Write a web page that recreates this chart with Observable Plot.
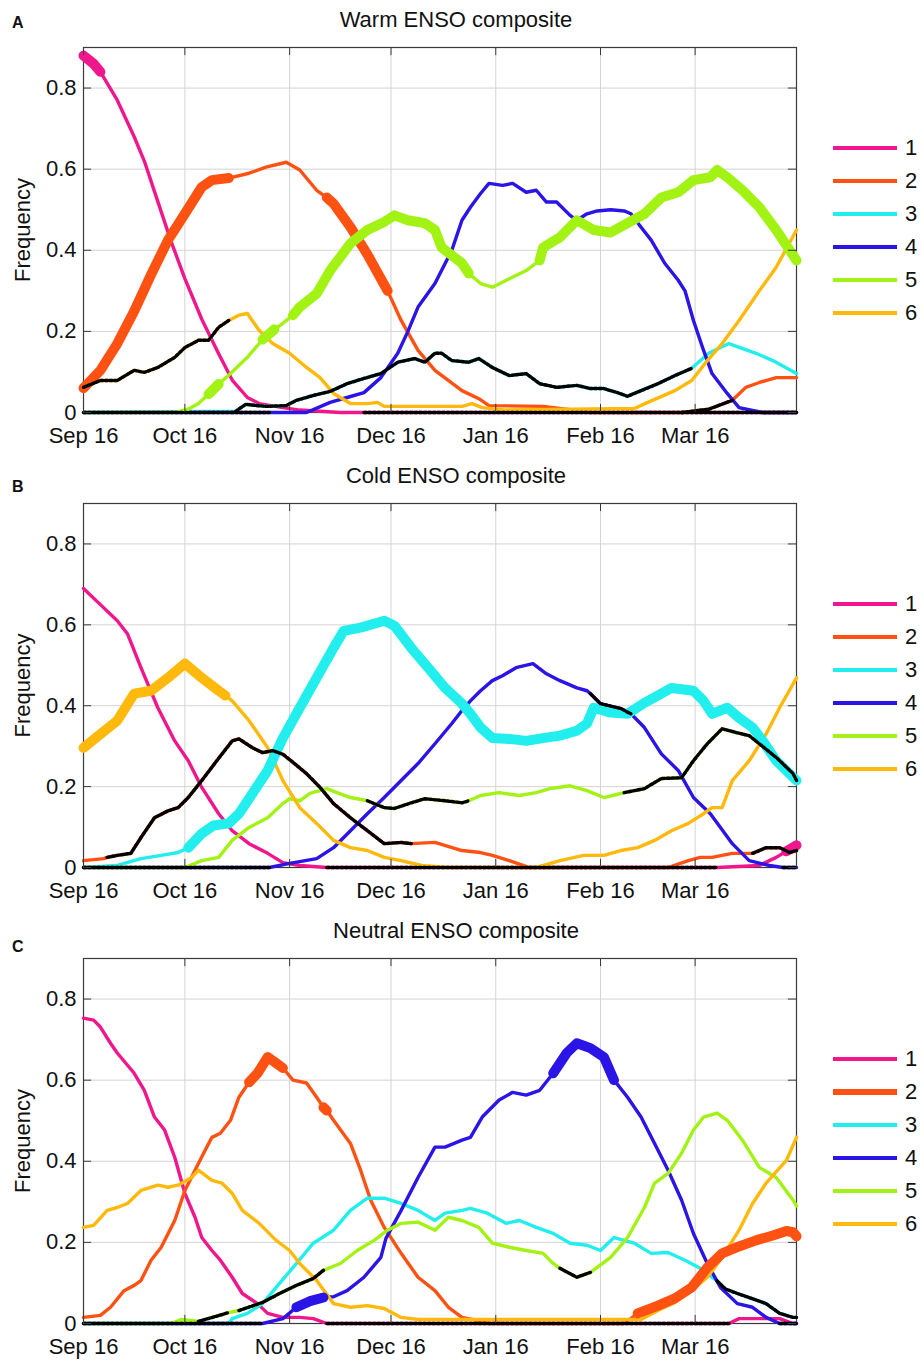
<!DOCTYPE html>
<html><head><meta charset="utf-8">
<script src="https://cdn.jsdelivr.net/npm/d3@7"></script>
<script src="https://cdn.jsdelivr.net/npm/@observablehq/plot@0.6"></script>
<style>
body{margin:0;background:#fff;font-family:"Liberation Sans",Arial,sans-serif;}
#root{position:relative;width:922px;height:1361px;overflow:hidden;background:#fff;}
.panel{position:absolute;left:0;}
.title{position:absolute;left:0;width:912px;text-align:center;font-size:22px;line-height:22px;color:#111;white-space:nowrap;}
.letter{position:absolute;left:12px;font-size:16px;font-weight:bold;line-height:16px;color:#111;}
.entry{position:absolute;left:833px;display:flex;align-items:center;height:30px;}
.swatch{width:64px;}
.lab{margin-left:8px;font-size:22px;line-height:22px;color:#111;}
</style></head><body><div id="root"></div><script>
// day offsets from Sep 16; value = frequency; sig: 1 significant high, -1 significant low, 0 none
const tickDays = [0, 30, 61, 91, 122, 153, 181];
const tickLabels = ["Sep 16", "Oct 16", "Nov 16", "Dec 16", "Jan 16", "Feb 16", "Mar 16"];
const yTicks = [0, 0.2, 0.4, 0.6, 0.8];
const clusters = [1, 2, 3, 4, 5, 6];
const colors = ["#f0168c", "#ff5212", "#22eeee", "#2a14e6", "#a2f214", "#ffb90c"];

const warm1 = [[0,.88,1],[3,.86,1],[5,.84,0],[10,.77,0],[15,.68,0],[18,.62,0],[22,.52,0],[26,.42,0],[30,.33,0],[35,.23,0],[40,.145,0],[44,.08,0],[48.5,.037,0],[52,.022,0],[59,.012,0],[64,.006,0],[70,.003,0],[76,0,0],[83,0,-1],[211,0,-1]];
const warm2 = [[0,.06,1],[5,.104,1],[10,.17,1],[15,.25,1],[20,.34,1],[25,.425,1],[30,.49,1],[35,.556,1],[38,.573,1],[43,.578,0],[49,.59,0],[54,.605,0],[60,.617,0],[64,.598,0],[69,.548,0],[72,.53,1],[74,.515,1],[79,.457,1],[84,.39,1],[90,.30,0],[94,.227,0],[99,.153,0],[104,.104,0],[112,.054,0],[117,.034,0],[120,.017,0],[136,.015,0],[144,.007,0],[150,0,0],[177,0,-1],[185,.008,-1],[192,.03,0],[196,.062,0],[200,.074,0],[205,.086,0],[211,.086,0]];
const warm3 = [[0,0,0],[45,.003,-1],[48,.02,-1],[54,.015,-1],[60,.017,-1],[63,.03,-1],[68,.042,-1],[73,.052,-1],[78,.071,-1],[83,.084,-1],[88,.096,-1],[93,.124,-1],[98,.133,-1],[101,.124,-1],[104,.146,-1],[106,.146,-1],[109,.128,-1],[114,.124,-1],[117,.133,-1],[121,.111,-1],[126,.091,-1],[131,.096,-1],[135,.071,-1],[140,.062,-1],[146,.067,-1],[150,.059,-1],[154,.059,-1],[158,.049,-1],[161,.04,-1],[165,.054,-1],[170,.071,-1],[175,.091,-1],[180,.109,0],[185,.146,0],[191,.17,0],[199,.146,0],[204,.128,0],[211,.096,0]];
const warm4 = [[0,0,-1],[55,0,0],[66,0,0],[73,.025,0],[78,.037,0],[83,.049,0],[88,.086,0],[93,.146,0],[96,.2,0],[99,.26,0],[104,.318,0],[109,.40,0],[112,.474,0],[114.5,.506,0],[117.5,.54,0],[120,.565,0],[124,.56,0],[127,.565,0],[131,.543,0],[134,.548,0],[137,.519,0],[140,.519,0],[144,.486,0],[146,.474,0],[149,.49,0],[152,.497,0],[156,.50,0],[160,.497,0],[162,.49,0],[165,.457,0],[168,.425,0],[172,.368,0],[176,.326,0],[178,.30,0],[180.5,.227,0],[183.5,.153,0],[186,.096,0],[190.5,.047,0],[194,.012,0],[198,.005,0],[201,0,-1],[211,0,-1]];
const warm5 = [[0,0,0],[27,0,0],[31,.008,0],[34,.022,0],[37,.045,1],[40,.07,0],[43.5,.096,0],[48.5,.136,0],[53,.18,1],[56.5,.205,0],[59,.22,0],[62,.24,1],[64,.26,1],[69,.293,1],[73,.35,1],[79,.417,1],[84,.45,1],[89,.47,1],[92,.486,1],[96,.474,1],[101,.467,1],[104,.45,1],[106,.407,1],[112,.368,1],[114,.343,0],[117.5,.318,0],[121,.309,0],[126,.33,0],[131,.35,0],[135,.375,1],[136,.407,1],[141,.432,1],[146,.474,1],[151,.45,1],[156,.444,1],[161,.467,1],[166,.49,1],[171,.53,1],[176,.543,1],[180.5,.573,1],[185.5,.58,1],[187.5,.598,1],[190.5,.58,1],[195,.548,1],[200,.506,1],[205,.45,1],[211,.375,1]];
const warm6 = [[0,.062,-1],[5,.079,-1],[10,.079,-1],[15,.104,-1],[18,.099,-1],[22,.111,-1],[27,.136,-1],[30,.16,-1],[34,.178,-1],[37,.178,-1],[40,.21,-1],[43,.227,0],[46,.24,0],[48.5,.244,0],[52,.202,0],[56,.17,0],[61,.146,0],[66,.111,0],[70,.086,0],[74,.047,0],[79,.022,0],[84,.022,0],[87,.025,0],[89,.015,0],[112,.015,0],[115,.022,0],[118,.012,0],[125,.006,0],[163,.01,0],[167,.025,0],[175,.054,0],[180,.079,0],[184.6,.128,0],[189,.17,0],[194,.227,0],[200,.30,0],[205,.358,0],[211,.45,0]];

const cold1 = [[0,.69,0],[5,.65,0],[10,.61,0],[13,.578,0],[17,.494,0],[22,.395,0],[27,.313,0],[31,.264,0],[35,.198,0],[40,.133,0],[44,.091,0],[49,.059,0],[54.5,.035,0],[59,.012,0],[64,.005,0],[72,0,-1],[187.5,0,0],[200,.005,0],[205,.025,0],[208,.04,1],[211,.055,1]];
const cold2 = [[0,.017,0],[6,.022,0],[7,.025,-1],[10,.03,-1],[14,.035,-1],[17,.074,-1],[21,.123,-1],[25,.14,-1],[28,.148,-1],[31,.173,-1],[35,.215,-1],[40,.27,-1],[44,.313,-1],[46,.318,-1],[50,.296,-1],[53,.284,-1],[56,.289,-1],[59,.28,-1],[62,.26,-1],[66,.232,-1],[70,.198,-1],[74,.158,-1],[79,.123,-1],[84,.091,-1],[89,.059,-1],[94,.062,-1],[97,.059,0],[104,.062,0],[112,.042,0],[117.5,.037,0],[121,.03,0],[126,.017,0],[132,0,0],[173,0,0],[179,.017,0],[182.5,.025,0],[186,.025,0],[192,.035,0],[198,.035,-1],[202,.049,-1],[206,.049,-1],[209,.037,-1],[211,.042,-1]];
const cold3 = [[0,0,0],[10,.005,0],[17,.022,0],[23,.03,0],[28,.037,0],[31,.049,1],[35,.084,1],[38.5,.104,1],[43,.109,1],[46,.133,1],[50,.183,1],[54.5,.24,1],[59,.32,1],[64,.395,1],[69,.469,1],[74,.543,1],[77,.585,1],[82,.593,1],[87,.605,1],[89,.61,1],[92,.598,1],[97,.543,1],[102,.494,1],[107,.444,1],[112,.405,1],[114.5,.38,1],[117.5,.346,1],[121,.32,1],[126,.318,1],[131,.313,1],[136,.32,1],[141,.326,1],[146,.338,1],[149,.356,1],[151,.395,1],[156,.383,1],[161,.38,1],[166,.407,1],[171,.43,1],[174,.444,1],[180.5,.437,1],[183.5,.412,1],[186,.38,1],[190.5,.395,1],[194,.37,1],[198,.346,1],[201,.313,1],[205,.264,1],[211,.215,1]];
const cold4 = [[0,0,-1],[55,0,0],[61,.01,0],[69,.022,0],[74,.049,0],[79,.091,0],[84,.133,0],[89,.173,0],[94,.215,0],[99,.257,0],[104,.306,0],[109,.356,0],[112,.388,0],[114.5,.412,0],[117.5,.437,0],[121,.462,0],[124,.474,0],[128,.494,0],[133,.504,0],[137,.479,0],[141,.462,0],[146,.444,0],[149,.437,0],[150,.43,-1],[153,.405,-1],[159,.393,-1],[162,.38,0],[166,.346,0],[171,.281,0],[176,.24,0],[180.5,.173,0],[185.5,.133,0],[188.5,.099,0],[192,.059,0],[197,.017,0],[203,.005,0],[207,0,-1],[211,0,-1]];
const cold5 = [[0,0,0],[30,0,0],[35,.017,0],[40,.025,0],[44,.067,0],[49,.099,0],[54.5,.123,0],[59,.158,0],[61,.17,0],[64,.165,0],[67,.183,0],[72,.195,0],[75,.185,0],[79,.173,0],[84,.165,-1],[89,.148,-1],[92,.146,-1],[97,.16,-1],[101,.17,-1],[107,.165,-1],[112,.16,-1],[114,.165,0],[117.5,.178,0],[123,.185,0],[129,.178,0],[134,.185,0],[138,.195,0],[144,.202,0],[149,.19,0],[154,.173,0],[159,.183,0],[160,.185,-1],[166,.195,-1],[171,.22,-1],[177,.222,-1],[180.5,.264,-1],[184.6,.306,-1],[189,.343,-1],[193.5,.333,-1],[197,.326,-1],[200,.306,-1],[205,.272,-1],[210,.232,-1],[211,.215,-1]];
const cold6 = [[0,.296,1],[5,.33,1],[10,.363,1],[15,.43,1],[20,.437,1],[25,.469,1],[30,.504,1],[35,.469,1],[40,.437,1],[42,.425,0],[44,.412,0],[49,.363,0],[54.5,.296,0],[59,.215,0],[64,.148,0],[69,.109,0],[74,.067,0],[79,.049,0],[84,.042,0],[89,.025,0],[94,.017,0],[100,.005,0],[108,0,0],[134,0,0],[141,.017,0],[148,.03,0],[154,.03,0],[159,.042,0],[164,.049,0],[169,.067,0],[174,.091,0],[179,.109,0],[183.5,.133,0],[186,.148,0],[189,.148,0],[192,.215,0],[197,.264,0],[202,.33,0],[206,.395,0],[211,.469,0]];

const neutral1 = [[0,.753,0],[3,.748,0],[5,.731,0],[8,.691,0],[10,.667,0],[15,.617,0],[18,.575,0],[21,.509,0],[24,.477,0],[27,.41,0],[30,.321,0],[33,.262,0],[35,.212,0],[38,.18,0],[40.5,.156,0],[44,.114,0],[47,.074,0],[51.5,.049,0],[54.5,.025,0],[59,.015,0],[64,.015,0],[68,.012,0],[72,0,-1],[191,0,0],[194,.012,0],[206,.012,0],[210,0,0],[211,0,0]];
const neutral2 = [[0,.015,0],[5,.02,0],[8,.04,0],[12,.081,0],[15,.094,0],[17,.106,0],[20,.156,0],[23,.188,0],[27,.254,0],[30,.328,0],[33,.378,0],[36,.427,0],[38,.459,0],[40.5,.469,0],[43.5,.501,0],[46,.558,0],[49,.595,1],[51.5,.617,1],[54.5,.657,1],[57,.642,1],[59,.63,0],[62,.60,0],[66,.593,0],[69,.558,0],[71,.533,1],[72,.525,0],[74,.501,0],[79,.444,0],[82,.378,0],[85,.304,0],[89,.237,0],[94,.173,0],[99,.114,0],[104,.081,0],[108,.04,0],[112,.015,0],[115,.01,0],[120,0,0],[160,0,0],[164,.025,1],[170,.044,1],[175,.062,1],[180,.089,1],[184.6,.138,1],[189,.173,1],[194,.19,1],[199,.205,1],[204,.217,1],[208,.228,1],[210,.225,1],[211,.215,1]];
const neutral3 = [[0,0,0],[43,0,0],[44,.012,0],[48.5,.025,0],[53,.049,0],[58,.099,0],[63,.148,0],[68,.198,0],[74,.23,0],[79,.279,0],[84,.309,0],[89,.309,0],[94,.296,0],[99,.279,0],[104,.254,0],[107,.272,0],[112,.279,0],[114.5,.284,0],[119.5,.272,0],[125,.247,0],[129,.254,0],[134,.237,0],[139,.222,0],[144,.198,0],[149,.193,0],[153,.18,0],[157,.212,0],[163,.198,0],[168,.173,0],[173,.175,0],[178,.156,0],[182.5,.136,0],[187.5,.105,-1],[190,.085,-1],[193.5,.074,-1],[197,.064,-1],[202,.049,-1],[206,.025,-1],[210,.015,-1],[211,.015,-1]];
const neutral4 = [[0,0,-1],[53,0,0],[59,.012,0],[63,.04,1],[67,.055,1],[71,.064,0],[74,.066,0],[78,.081,0],[83,.114,0],[88,.163,0],[89.5,.21,0],[94,.279,0],[99,.36,0],[104,.435,0],[107,.435,0],[112,.452,0],[114.5,.459,0],[118,.509,0],[123,.551,0],[127,.57,0],[131,.563,0],[135,.575,0],[139,.617,1],[143,.667,1],[146,.691,1],[150,.679,1],[154,.657,1],[157,.60,0],[161,.558,0],[165,.509,0],[169,.444,0],[173,.378,0],[177,.304,0],[180.5,.222,0],[184.6,.148,0],[188.5,.089,0],[193.5,.049,0],[198,.04,0],[202,.015,0],[206,0,-1],[211,0,-1]];
const neutral5 = [[0,0,0],[26,0,0],[29,.01,0],[34,.005,-1],[43,.027,0],[46,.032,-1],[53,.052,-1],[58,.074,-1],[63,.094,-1],[68,.111,-1],[71,.131,0],[76,.148,0],[81,.18,0],[86,.205,0],[90,.23,0],[94,.247,0],[99,.25,0],[104,.23,0],[108,.262,0],[112,.254,0],[117,.237,0],[121,.198,0],[126,.188,0],[131,.18,0],[136,.173,0],[139,.148,0],[141,.136,-1],[146,.114,-1],[150,.126,0],[156,.163,0],[161,.212,0],[166,.286,0],[169,.346,0],[173,.37,0],[177,.42,0],[180.5,.477,0],[183.5,.509,0],[187.5,.519,0],[190.5,.501,0],[195,.452,0],[200,.385,0],[205,.36,0],[210,.304,0],[211,.29,0]];
const neutral6 = [[0,.237,0],[3,.242,0],[7,.279,0],[10,.286,0],[13,.296,0],[17,.328,0],[22,.341,0],[25,.336,0],[28,.341,0],[32,.36,0],[34,.378,0],[38,.353,0],[41,.346,0],[44,.321,0],[47,.279,0],[52,.247,0],[57,.205,0],[61,.18,0],[64,.148,0],[69,.106,0],[74,.049,0],[79,.04,0],[84,.044,0],[89,.037,0],[94,.015,0],[99,.01,0],[165,.01,0],[170,.032,0],[175,.052,0],[180,.081,0],[184.6,.114,0],[189,.163,0],[194,.23,0],[198,.296,0],[202,.346,0],[208,.402,0],[211,.459,0]];

const panels = [
  {letter: "A", title: "Warm ENSO composite", top: 0, height: 456, series: [warm1, warm2, warm3, warm4, warm5, warm6], letterBase: 28, thickLegend: []},
  {letter: "B", title: "Cold ENSO composite", top: 456, height: 455, series: [cold1, cold2, cold3, cold4, cold5, cold6], letterBase: 492, thickLegend: []},
  {letter: "C", title: "Neutral ENSO composite", top: 911, height: 450, series: [neutral1, neutral2, neutral3, neutral4, neutral5, neutral6], letterBase: 952, thickLegend: [2]}
];

const DAY = 864e5;
const base = Date.UTC(2001, 8, 16);
const toDate = d => new Date(base + d * DAY);
const xDomain = [toDate(0), toDate(211)];
const monthTicks = tickDays.map(toDate);
const labelByTime = new Map(monthTicks.map((d, i) => [+d, tickLabels[i]]));
const FONT = '"Liberation Sans", Arial, sans-serif';
const MT = 47;

function buildRuns(pts, k) {
  const runs = [];
  for (let i = 0; i < pts.length - 1; i++) {
    const s = pts[i][2];
    if (i === 0 || s !== pts[i - 1][2]) runs.push({sig: s, key: k + "-" + i, pts: [pts[i]]});
    runs[runs.length - 1].pts.push(pts[i + 1]);
  }
  return runs;
}
const rowsOf = (run, k) => run.pts.map(p => ({key: run.key, s: k, date: toDate(p[0]), v: p[1]}));

const root = document.getElementById("root");

for (const P of panels) {
  const div = document.createElement("div");
  div.className = "panel";
  div.style.top = P.top + "px";
  div.style.width = "922px";
  div.style.height = P.height + "px";

  const baseMarks = [], thickMarks = [], lowMarks = [];
  P.series.forEach((pts, idx) => {
    const k = clusters[idx];
    const all = pts.map(p => ({s: k, date: toDate(p[0]), v: p[1]}));
    baseMarks.push(Plot.line(all, {x: "date", y: "v", stroke: colors[idx], strokeWidth: 3.4, strokeLinejoin: "round"}));
    const runs = buildRuns(pts, k);
    const hi = runs.filter(r => r.sig === 1).flatMap(r => rowsOf(r, k));
    const lo = runs.filter(r => r.sig === -1).flatMap(r => rowsOf(r, k));
    if (hi.length) thickMarks.push(Plot.line(hi, {x: "date", y: "v", z: "key", stroke: colors[idx], strokeWidth: 10, strokeLinecap: "round", strokeLinejoin: "round"}));
    if (lo.length) lowMarks.push(Plot.line(lo, {x: "date", y: "v", z: "key", stroke: "#000", strokeWidth: 3.4, strokeDasharray: "2.6,2"}));
  });

  const chart = Plot.plot({
    width: 922, height: P.height,
    marginLeft: 83, marginRight: 126, marginTop: MT, marginBottom: P.height - MT - (P.letter === "B" ? 364 : 365),
    style: {fontFamily: FONT, fontSize: "22px", background: "#fff", color: "#111"},
    x: {type: "utc", domain: xDomain},
    y: {domain: [0, 0.9]},
    marks: [
      Plot.gridX(monthTicks, {stroke: "#d4d4d4", strokeOpacity: 1, strokeWidth: 1}),
      Plot.gridY(yTicks.slice(1), {stroke: "#d4d4d4", strokeOpacity: 1, strokeWidth: 1}),
      Plot.frame({stroke: "#3a3a3a", strokeWidth: 1.2}),
      ...baseMarks, ...thickMarks, ...lowMarks,
      Plot.ruleX(monthTicks, {x: d => d, y1: 0.88, y2: 0.9, stroke: "#3a3a3a"}),
      Plot.ruleX(monthTicks, {x: d => d, y1: 0, y2: 0.02, stroke: "#3a3a3a"}),
      Plot.ruleY(yTicks, {y: d => d, x1: () => xDomain[0], x2: () => toDate(2.4), stroke: "#3a3a3a"}),
      Plot.ruleY(yTicks, {y: d => d, x1: () => toDate(208.6), x2: () => xDomain[1], stroke: "#3a3a3a"}),
      Plot.axisX(monthTicks, {tickSize: 0, tickPadding: 15, tickFormat: d => labelByTime.get(+d), fontSize: 22, label: null}),
      Plot.axisY(yTicks, {tickSize: 0, tickPadding: 7, tickFormat: d => d === 0 ? "0" : d.toFixed(1), fontSize: 22, label: null}),
      Plot.text([0], {frameAnchor: "left", text: () => "Frequency", rotate: -90, dx: -61, fontSize: 22, textAnchor: "middle", fill: "#111"})
    ]
  });
  div.appendChild(chart);

  const t = document.createElement("div");
  t.className = "title";
  t.textContent = P.title;
  t.style.top = (MT - 19 - 18.6) + "px";
  div.appendChild(t);

  const l = document.createElement("div");
  l.className = "letter";
  l.textContent = P.letter;
  l.style.top = (P.letterBase - P.top - 13.5) + "px";
  div.appendChild(l);

  clusters.forEach((c, i) => {
    const e = document.createElement("div");
    e.className = "entry";
    e.style.top = (MT + 101 + 33 * i - 15) + "px";
    const sw = document.createElement("div");
    sw.className = "swatch";
    sw.style.height = (P.thickLegend.includes(c) ? 6 : 4) + "px";
    sw.style.background = colors[i];
    const lab = document.createElement("span");
    lab.className = "lab";
    lab.textContent = String(c);
    e.appendChild(sw); e.appendChild(lab);
    div.appendChild(e);
  });

  root.appendChild(div);
}
</script></body></html>
